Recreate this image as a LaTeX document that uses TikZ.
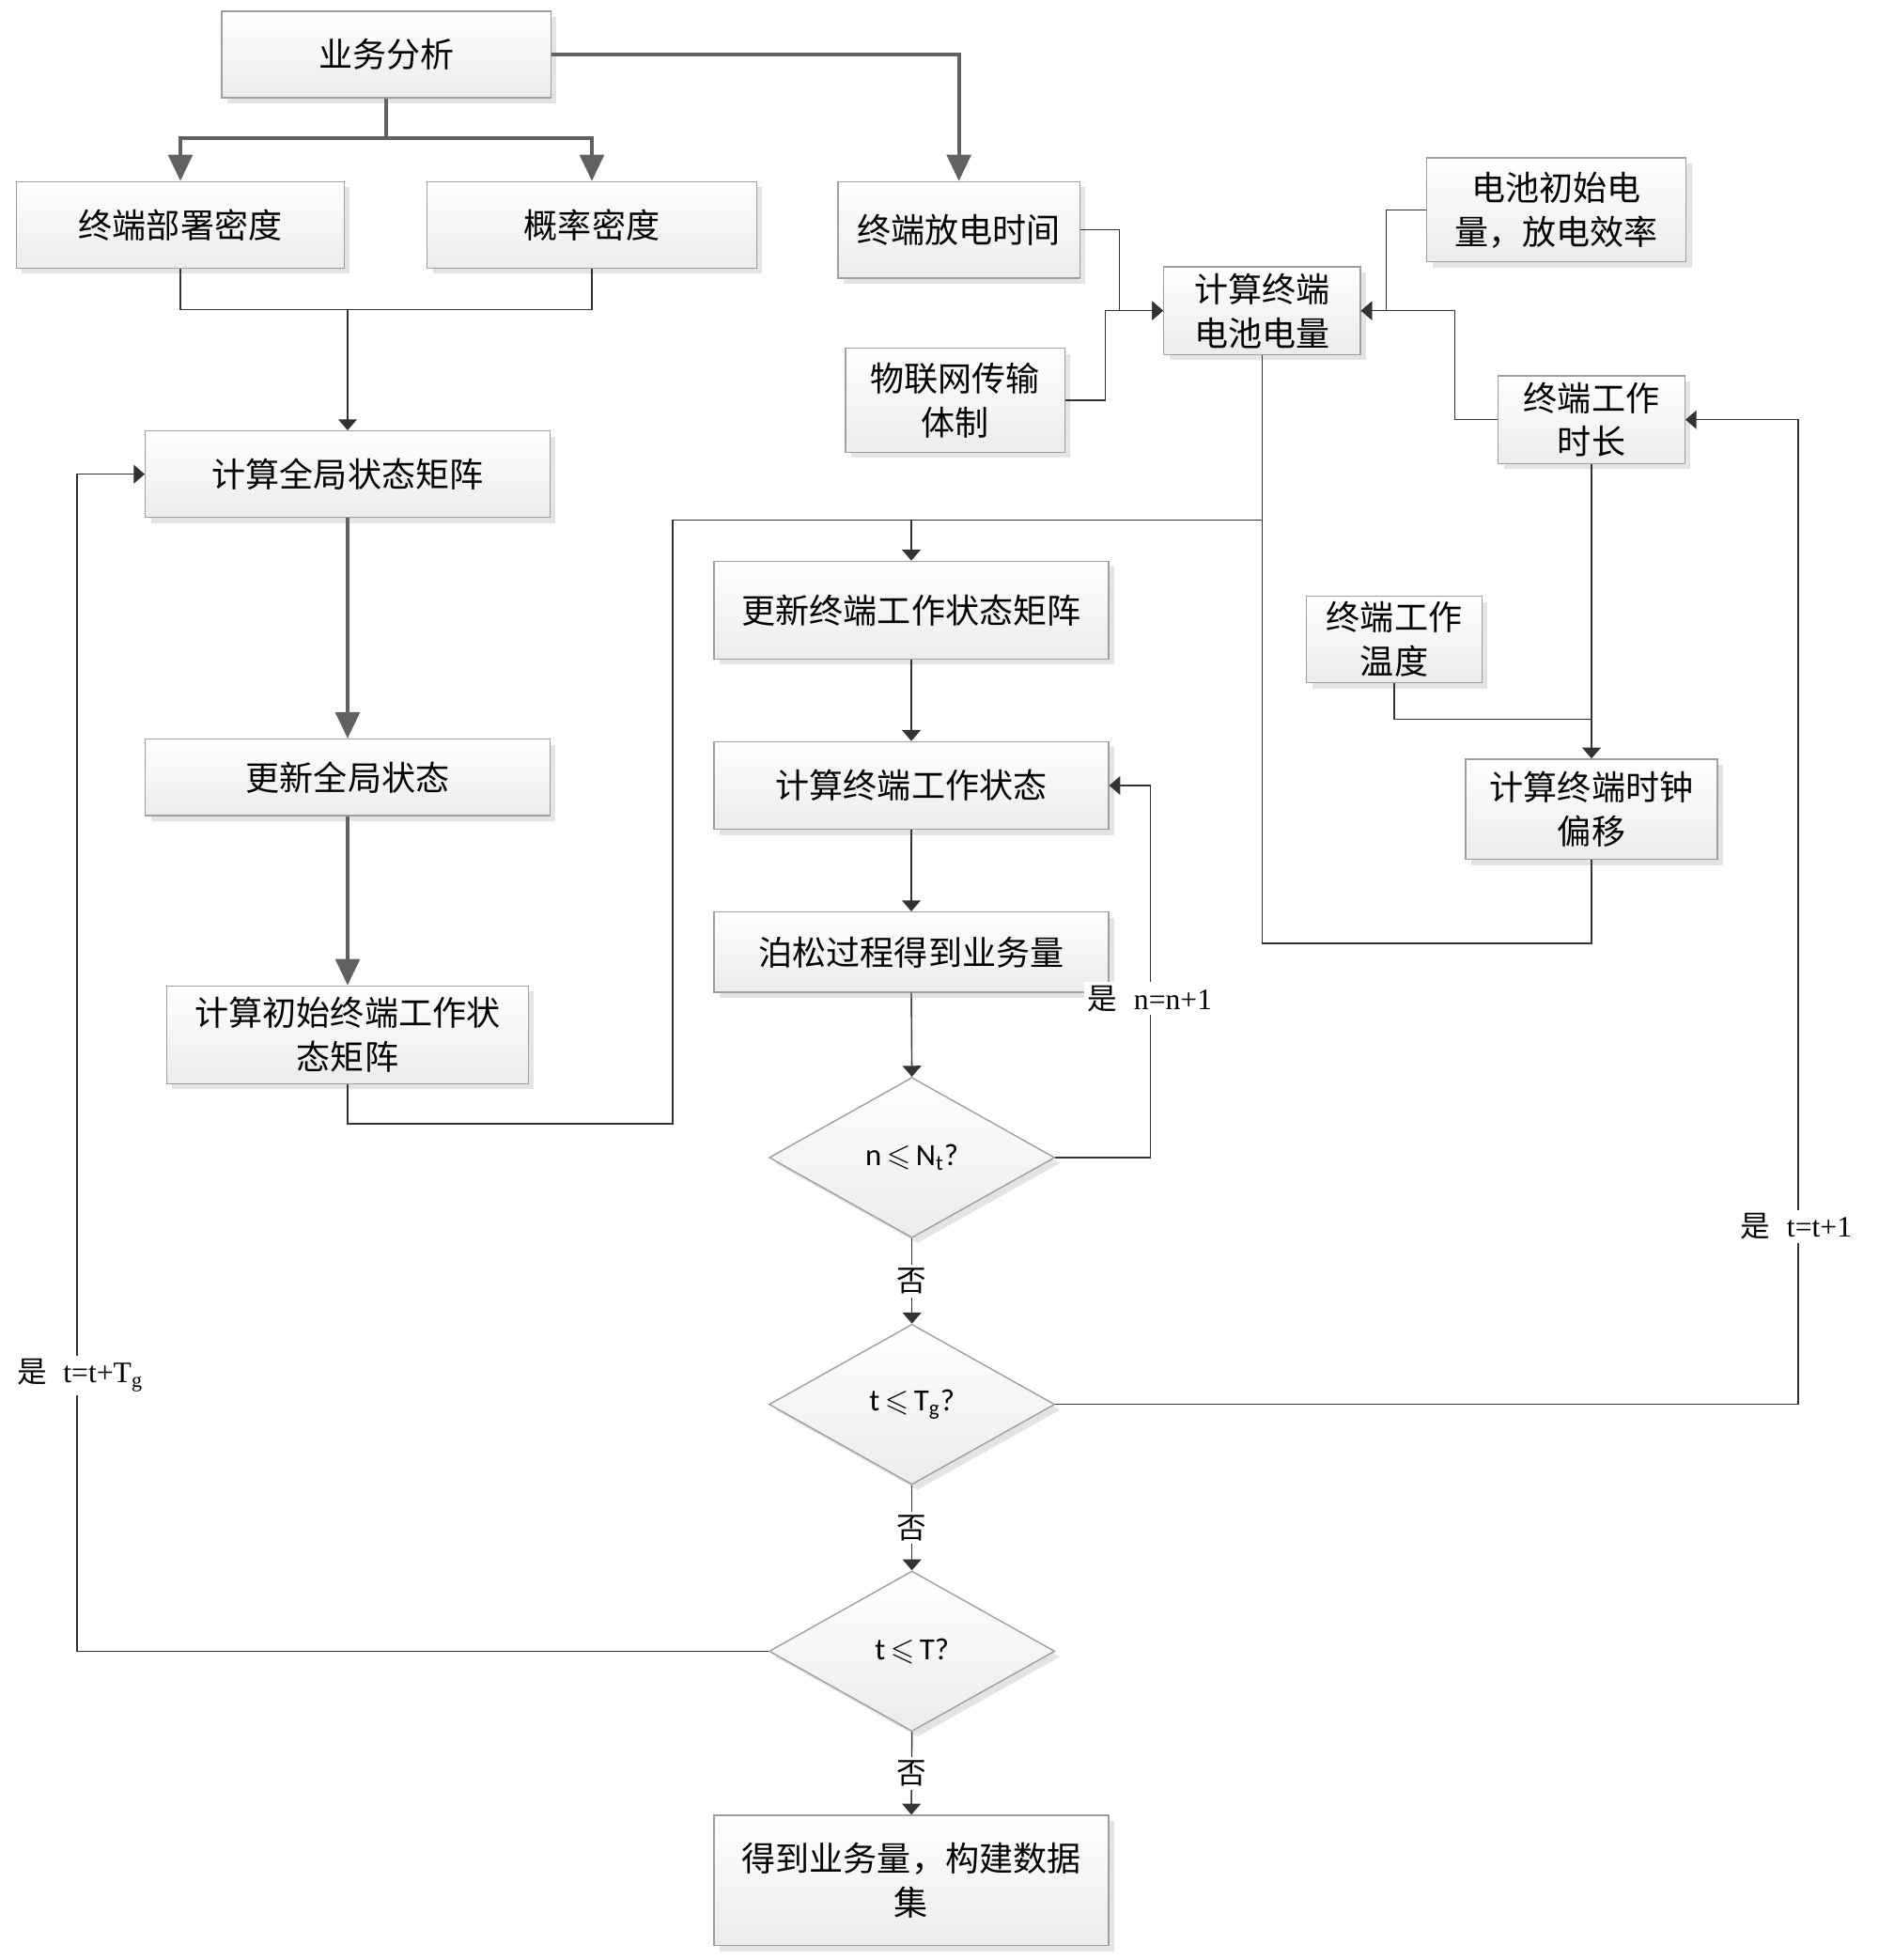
\documentclass[tikz,border=0pt]{standalone}
\usepackage{fontspec}
\usepackage{amssymb}
\setmainfont{Noto Sans CJK SC}
\newfontfamily\latinserif{Liberation Serif}
\newfontfamily\latinsans{Carlito}
\usetikzlibrary{arrows.meta,shapes.geometric,shadows}

\tikzset{
  box/.style={draw=gray!75, line width=0.6pt, top color=white, bottom color=gray!15,
    drop shadow={shadow xshift=2.5pt, shadow yshift=-2.5pt, fill=gray!35, opacity=0.6},
    align=center, inner sep=0pt, font=\fontsize{15.4}{20}\selectfont},
  dec/.style={diamond, draw=gray!75, line width=0.6pt, top color=white, bottom color=gray!15,
    drop shadow={shadow xshift=2.5pt, shadow yshift=-2.5pt, fill=gray!35, opacity=0.6},
    minimum width=4.56cm, minimum height=2.56cm, inner sep=0pt,
    font=\latinsans\fontsize{14}{16}\selectfont},
  flow/.style={draw=black!62, line width=1.6pt, -{Triangle[width=11pt,length=12pt]}},
  flowline/.style={draw=black!62, line width=1.6pt},
  link/.style={draw=black!80, line width=0.6pt},
  link arrow/.style={link, -{Triangle[width=8.5pt,length=5pt]}},
  lab/.style={fill=white, inner sep=1.5pt, font=\fontsize{13.5}{16}\selectfont}
}

\begin{document}
\begin{tikzpicture}
[x=0.02cm,y=-0.02cm]
\useasboundingbox (0,0) rectangle (1500,1564.5);

% left column
\node[box, minimum width=5.26cm, minimum height=1.38cm] (yewu) at (308.5,43.5) {业务分析};
\node[box, minimum width=5.24cm, minimum height=1.38cm] (bushu) at (144,179.5) {终端部署密度};
\node[box, minimum width=5.26cm, minimum height=1.38cm] (gailv) at (472.5,179.5) {概率密度};
\node[box, minimum width=6.46cm, minimum height=1.38cm] (quanju) at (277.5,378.5) {计算全局状态矩阵};
\node[box, minimum width=6.46cm, minimum height=1.22cm] (quanjugx) at (277.5,620.5) {更新全局状态};
\node[box, minimum width=5.78cm, minimum height=1.56cm] (chushi) at (277.5,826) {计算初始终端工作状\\态矩阵};

% battery part
\node[box, minimum width=3.86cm, minimum height=1.54cm] (fangdian) at (765.5,183.5) {终端放电时间};
\node[box, minimum width=3.50cm, minimum height=1.66cm] (wulian) at (762.5,319.5) {物联网传输\\体制};
\node[box, minimum width=3.14cm, minimum height=1.40cm] (dianliang) at (1007.5,248) {计算终端\\电池电量};
\node[box, minimum width=4.14cm, minimum height=1.66cm] (chushidian) at (1242.5,167.5) {电池初始电\\量，放电效率};
\node[box, minimum width=2.98cm, minimum height=1.40cm] (shichang) at (1270.5,335) {终端工作\\时长};
\node[box, minimum width=2.80cm, minimum height=1.38cm] (wendu) at (1113,510.5) {终端工作\\温度};
\node[box, minimum width=4.02cm, minimum height=1.60cm] (shizhong) at (1270.5,646) {计算终端时钟\\偏移};

% middle column
\node[box, minimum width=6.30cm, minimum height=1.56cm] (gengxin) at (727.5,487) {更新终端工作状态矩阵};
\node[box, minimum width=6.30cm, minimum height=1.40cm] (zhuangtai) at (727.5,627) {计算终端工作状态};
\node[box, minimum width=6.30cm, minimum height=1.28cm] (bosong) at (727.5,760) {泊松过程得到业务量};
\node[dec] (d1) at (728,924) {n\,$\leqslant$\,N\textsubscript{t}?};
\node[dec] (d2) at (728,1121) {t\,$\leqslant$\,T\textsubscript{g}?};
\node[dec] (d3) at (728,1318) {t\,$\leqslant$\,T?};
\node[box, minimum width=6.30cm, minimum height=2.08cm] (shuju) at (727.5,1501) {得到业务量，构建数据\\集};

% thick arrows
\coordinate (fork) at (308.5,110);
\draw[flowline] (yewu.south) -- (fork);
\draw[flow] (fork) -| (bushu.north);
\draw[flow] (fork) -| (gailv.north);
\draw[flow] (yewu.east) -| (fangdian.north);
\draw[flow] (quanju.south) -- (quanjugx.north);
\draw[flow] (quanjugx.south) -- (chushi.north);

% thin connectors
\coordinate (merge) at (277.5,247);
\draw[link] (bushu.south) |- (merge) -| (gailv.south);
\draw[link arrow] (merge) -- (quanju.north);

\coordinate (low) at (537,897);
\coordinate (bus) at (727.5,415);
\draw[link arrow] (chushi.south) |- (low) |- (bus) -- (gengxin.north);
\draw[link] (bus) -- (dianliang.south |- bus);
\coordinate (back) at (1270.5,753);
\draw[link] (dianliang.south) |- (back) -- (shizhong.south);

\draw[link arrow] (fangdian.east) -- ++(31,0) |- (dianliang.west);
\draw[link arrow] (wulian.east) -- ++(32,0) |- (dianliang.west);
\draw[link arrow] (chushidian.west) -- ++(-32,0) |- (dianliang.east);
\draw[link arrow] (shichang.west) -- ++(-34,0) |- (dianliang.east);
\draw[link arrow] (shichang.south) -- (shizhong.north);
\coordinate (temp) at (1270.5,574);
\draw[link] (wendu.south) |- (temp);

\draw[link arrow] (gengxin.south) -- (zhuangtai.north);
\draw[link arrow] (zhuangtai.south) -- (bosong.north);
\draw[link arrow] (bosong.south) -- (d1.north);

% loops
\draw[link arrow] (d1.east) -- ++(76,0) |- (zhuangtai.east);
\node[lab] (yes1) at (918,797) {是\hspace{0.55em}{\latinserif n=n+1}};
\draw[link arrow] (d1.south) -- node[lab] (no1) {否} (d2.north);
\draw[link arrow] (d2.east) -- ++(593,0) |- (shichang.east);
\node[lab] (yes2) at (1434,979) {是\hspace{0.55em}{\latinserif t=t+1}};
\draw[link arrow] (d2.south) -- node[lab] (no2) {否} (d3.north);
\draw[link arrow] (d3.west) -- ++(-552,0) |- (quanju.west);
\node[lab] (yes3) at (64,1098) {是\hspace{0.55em}{\latinserif t=t+T\textsubscript{g}}};
\draw[link arrow] (d3.south) -- node[lab] (no3) {否} (shuju.north);
\end{tikzpicture}
\end{document}
